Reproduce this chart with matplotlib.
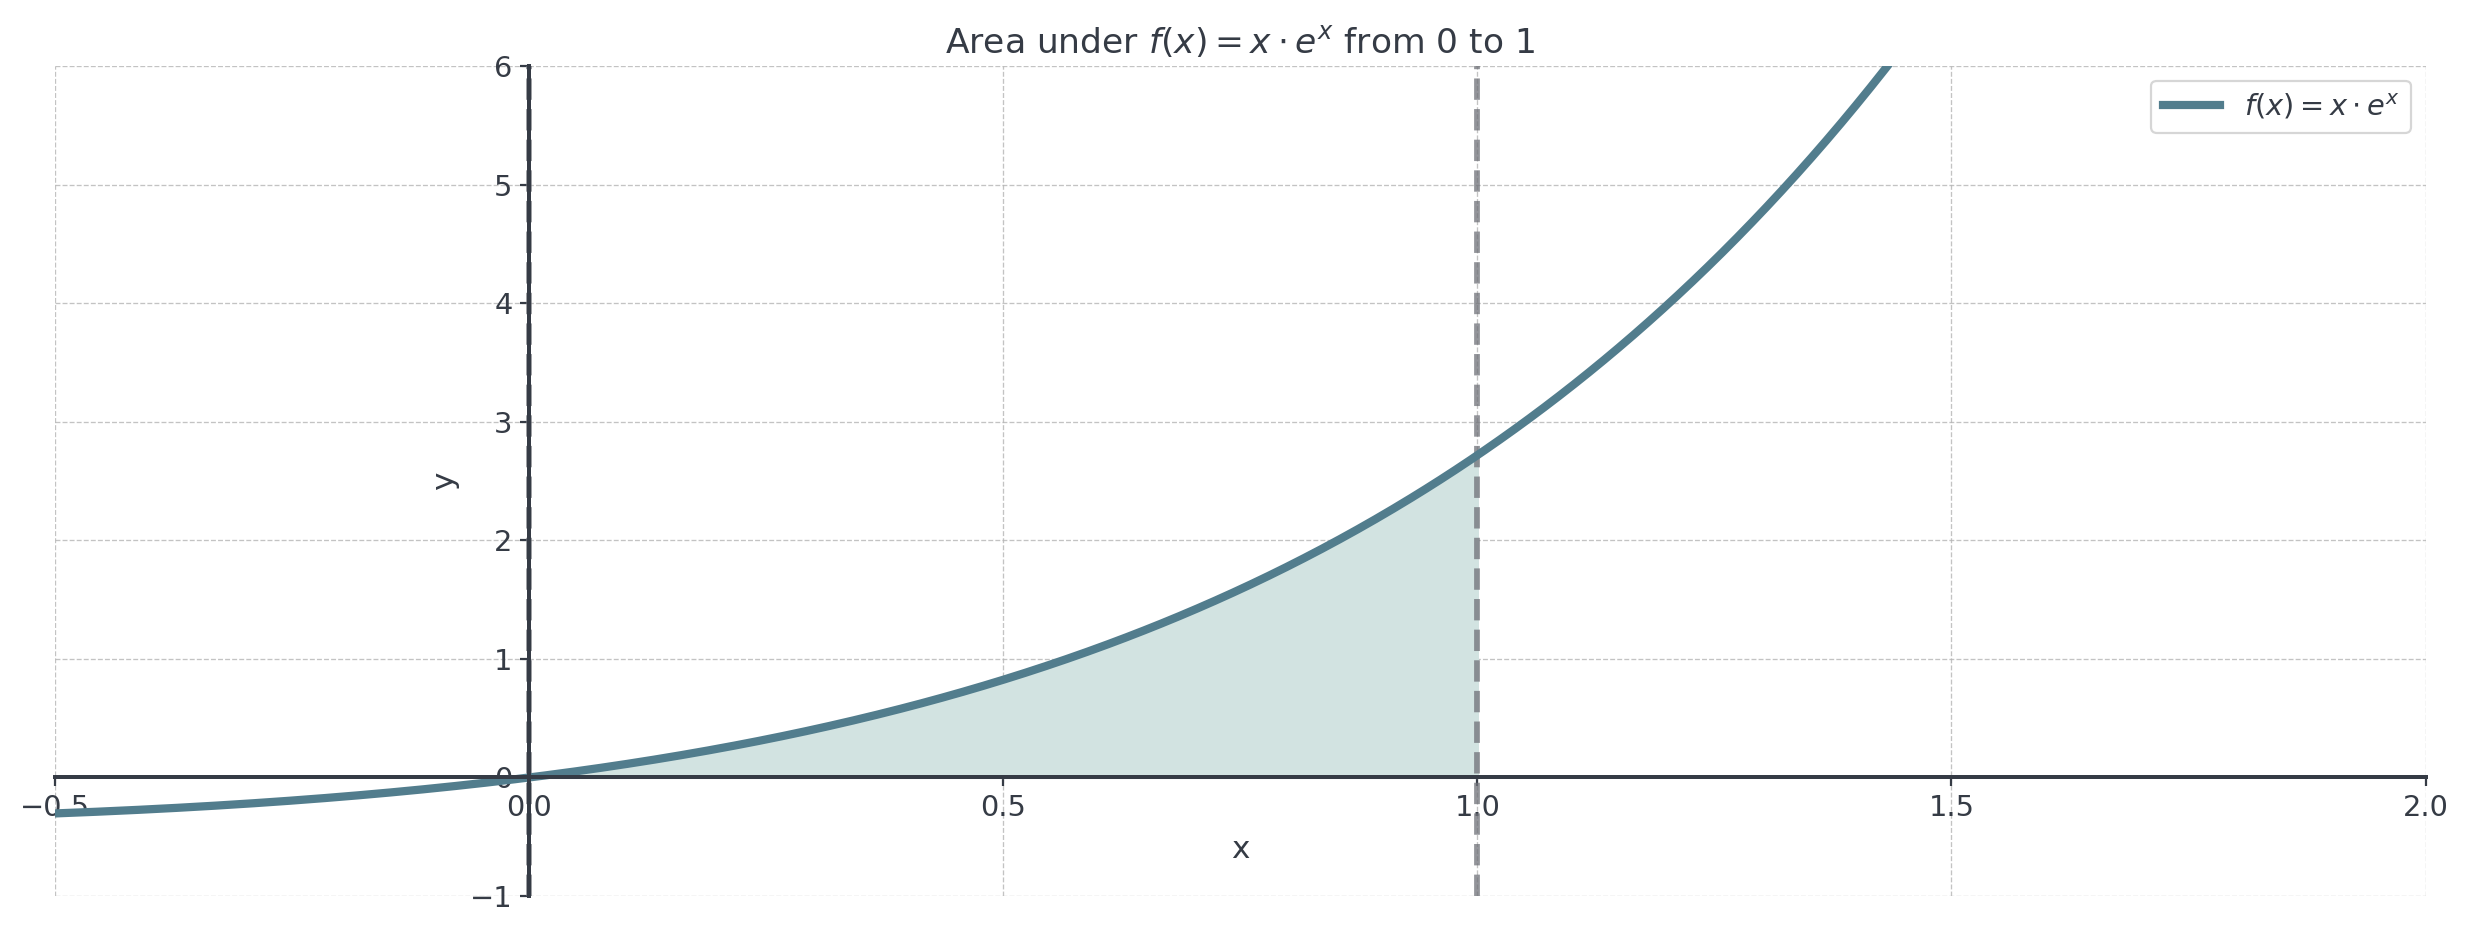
import numpy as np
import matplotlib
matplotlib.use("Agg")
import matplotlib.pyplot as plt

x_range = [-0.5, 2.0]
y_range = [-1, 6]
area_bounds = [0, 1]
x_ticks = [-0.5, 0.0, 0.5, 1.0, 1.5, 2.0]
y_ticks = [-1, 0, 1, 2, 3, 4, 5, 6]

x = np.linspace(x_range[0], x_range[1], 800)
y = x * np.exp(x)
xf = np.linspace(area_bounds[0], area_bounds[1], 400)
yf = xf * np.exp(xf)

text_c = "#353b45"
plt.rcParams['font.family'] = ['DejaVu Sans']
plt.rcParams['text.color'] = text_c
plt.rcParams['axes.labelcolor'] = text_c
plt.rcParams['xtick.color'] = text_c
plt.rcParams['ytick.color'] = text_c

dpi = 160
fig = plt.figure(figsize=(2470 / dpi, 932 / dpi), dpi=dpi)
ax = fig.add_axes([0.0223, 0.0386, 0.982 - 0.0223, 0.929 - 0.0386])

ax.fill_between(xf, 0, yf, color="#d2e3e1", zorder=1)
ax.plot(x, y, color="#527d8d", lw=3.7, label=r"$f(x) = x \cdot e^x$", zorder=4)
ax.axvline(area_bounds[0], color="#6f7178", alpha=0.75, lw=2.6, ls="--", zorder=3)
ax.axvline(area_bounds[1], color="#6f7178", alpha=0.75, lw=2.6, ls="--", zorder=3)

ax.set_xlim(*x_range)
ax.set_ylim(*y_range)
ax.set_xticks(x_ticks)
ax.set_yticks(y_ticks)
ax.set_xticklabels(["\u22120.5", "0.0", "0.5", "1.0", "1.5", "2.0"])
ax.set_yticklabels(["\u22121", "0", "1", "2", "3", "4", "5", "6"])

for s in ["top", "right"]:
    ax.spines[s].set_visible(False)
ax.spines["left"].set_position(("data", 0))
ax.spines["bottom"].set_position(("data", 0))
for s in ["left", "bottom"]:
    ax.spines[s].set_color(text_c)
    ax.spines[s].set_linewidth(1.8)
    ax.spines[s].set_zorder(5)
ax.tick_params(axis="both", labelsize=13, length=4, width=1, color=text_c)

ax.grid(True, ls="--", lw=0.6, color="#b5b5b5", alpha=0.8)
ax.set_axisbelow(True)

ax.set_title(r"Area under $f(x) = x \cdot e^x$ from 0 to 1", fontsize=15.5, color=text_c)
ax.set_xlabel("x", fontsize=14, labelpad=6)
ax.set_ylabel("y", fontsize=14, labelpad=5)

leg = ax.legend(loc="upper right", fontsize=13, frameon=True)
leg.get_frame().set_edgecolor("#cccccc")

fig.savefig("out.png", dpi=dpi)
